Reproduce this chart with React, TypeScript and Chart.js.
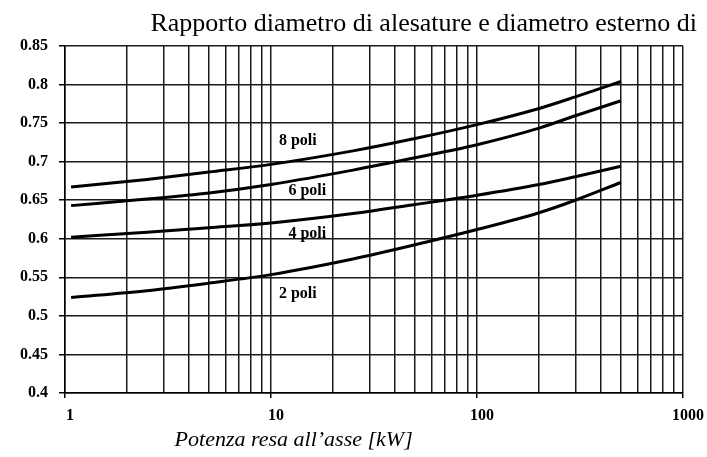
import React, { useEffect, useRef } from "react";
import { Chart, registerables } from "chart.js";

Chart.register(...registerables);

const TITLE = "Rapporto diametro di alesature e diametro esterno di";
const X_TITLE = "Potenza resa all\u2019asse [kW]";

// Power [kW] sample points (log axis)
const powerKW = [1.07, 2.5, 5, 10, 25, 50, 100, 200, 300, 500];

// Ratio values per pole count
const poli8 = [0.667, 0.677, 0.6865, 0.6965, 0.714, 0.73, 0.748, 0.769, 0.784, 0.804];
const poli6 = [0.643, 0.6515, 0.6595, 0.6705, 0.689, 0.705, 0.722, 0.7435, 0.7595, 0.779];
const poli4 = [0.602, 0.6086, 0.6143, 0.6205, 0.6327, 0.6444, 0.6565, 0.6704, 0.6805, 0.694];
const poli2 = [0.524, 0.5327, 0.5425, 0.5535, 0.5738, 0.5922, 0.612, 0.6338, 0.650, 0.673];

const seriesNames = ["8 poli", "6 poli", "4 poli", "2 poli"];
const seriesValues = [poli8, poli6, poli4, poli2];
// curve label anchors in data coordinates (kW, ratio)
const labelKW = [13.5, 15, 15, 13.5];
const labelRatio = [0.727, 0.662, 0.6065, 0.529];

// x grid / tick values
const xTickValues = [
  1, 2, 3, 4, 5, 6, 7, 8, 9,
  10, 20, 30, 40, 50, 60, 70, 80, 90,
  100, 200, 300, 400, 500, 600, 700, 800, 900, 1000,
];
const yMin = 0.4;
const yMax = 0.85;
const yStep = 0.05;

const isPow10 = (v: number) => {
  const l = Math.log10(v);
  return Math.abs(l - Math.round(l)) < 1e-9;
};

const FONT = '"Liberation Serif", "Times New Roman", serif';

const textPlugin = {
  id: "customTexts",
  afterDraw(chart: any) {
    const { ctx, chartArea, scales } = chart;
    ctx.save();
    ctx.fillStyle = "#000";
    ctx.font = `26px ${FONT}`;
    ctx.textAlign = "right";
    ctx.textBaseline = "alphabetic";
    ctx.fillText(TITLE, chart.width - 10, 31);

    ctx.font = `italic 22px ${FONT}`;
    ctx.textAlign = "center";
    ctx.fillText(X_TITLE, chartArea.left + 0.37 * (chartArea.right - chartArea.left), 446);

    ctx.font = `bold 16px ${FONT}`;
    ctx.textBaseline = "middle";
    seriesNames.forEach((n, i) => {
      ctx.fillText(n, scales.x.getPixelForValue(labelKW[i]), scales.y.getPixelForValue(labelRatio[i]));
    });
    ctx.restore();
  },
};

export default function App() {
  const ref = useRef<HTMLCanvasElement | null>(null);
  useEffect(() => {
    document.body.style.margin = "0";
    const canvas = ref.current;
    if (!canvas) return;
    const chart = new Chart(canvas, {
      type: "line",
      data: {
        datasets: seriesValues.map((vals, i) => ({
          label: seriesNames[i],
          data: vals.map((y, j) => ({ x: powerKW[j], y })),
          borderColor: "#000",
          borderWidth: 3,
          pointRadius: 0,
          fill: false,
          cubicInterpolationMode: "monotone" as const,
        })),
      },
      options: {
        animation: false,
        responsive: false,
        devicePixelRatio: 1,
        layout: { padding: { top: 46, right: 21, left: 0, bottom: 0 } },
        plugins: {
          legend: { display: false },
          title: { display: false },
          tooltip: { enabled: false },
        },
        scales: {
          x: {
            type: "logarithmic",
            min: 1,
            max: 1000,
            afterBuildTicks: (s: any) => {
              s.ticks = xTickValues.map((v) => ({ value: v }));
            },
            afterFit: (s: any) => {
              s.height = 64;
            },
            border: { color: "#000", width: 1.5 },
            grid: {
              color: "#1a1a1a",
              lineWidth: 1.5,
              drawTicks: true,
              tickLength: 5,
              tickColor: (c: any) => (c.tick && isPow10(c.tick.value) ? "#000" : "rgba(0,0,0,0)"),
            },
            ticks: {
              autoSkip: false,
              maxRotation: 0,
              padding: 8,
              labelOffset: 5,
              color: "#000",
              font: { family: FONT, size: 16, weight: "bold" },
              callback: (v: any) => (isPow10(Number(v)) ? String(Number(v)) : ""),
            },
          },
          y: {
            type: "linear",
            min: yMin,
            max: yMax,
            afterFit: (s: any) => {
              s.width = 65;
            },
            border: { color: "#000", width: 1.5 },
            grid: {
              color: "#1a1a1a",
              lineWidth: 1.5,
              drawTicks: true,
              tickLength: 6,
              tickColor: "#000",
            },
            ticks: {
              stepSize: yStep,
              padding: 11,
              color: "#000",
              font: { family: FONT, size: 16, weight: "bold" },
              callback: (v: any) => String(Math.round(Number(v) * 100) / 100),
            },
          },
        },
      },
      plugins: [textPlugin],
    });
    return () => chart.destroy();
  }, []);
  return (
    <div style={{ width: 707, height: 457 }}>
      <canvas ref={ref} width={707} height={457} style={{ display: "block", width: 707, height: 457 }} />
    </div>
  );
}
